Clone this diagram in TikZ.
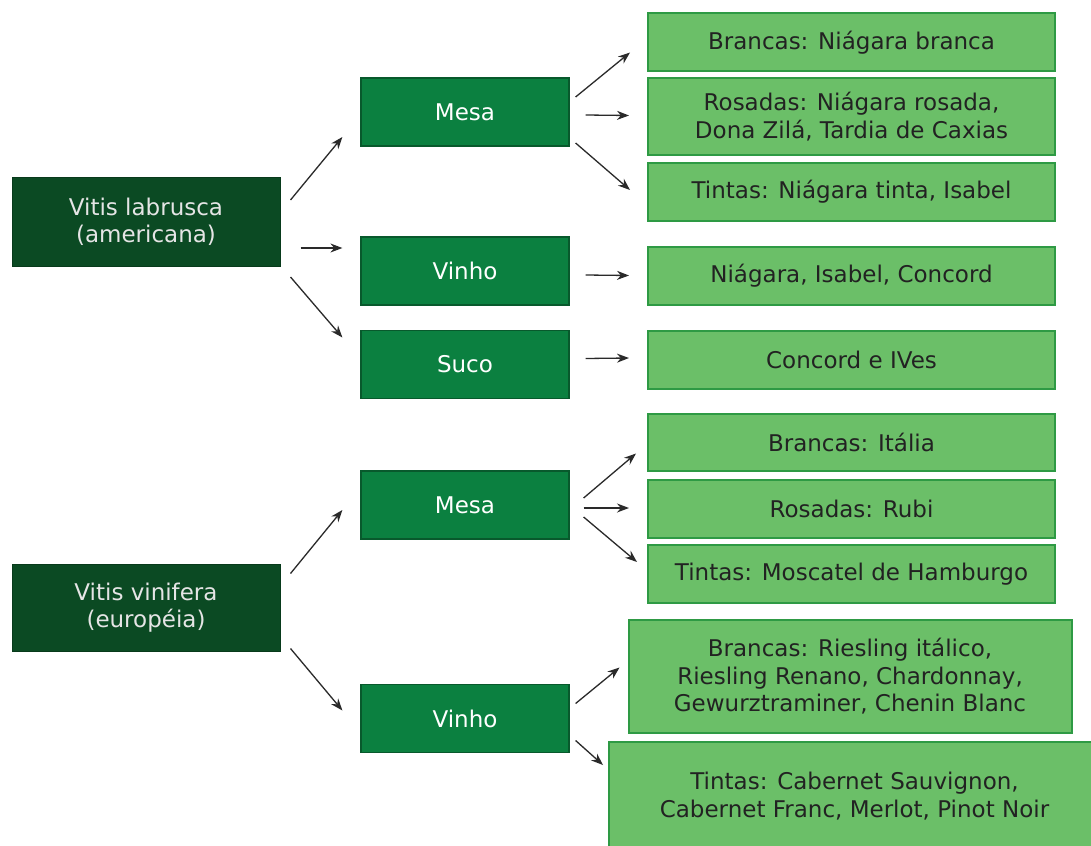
\documentclass[tikz,border=0pt]{standalone}
\usepackage{fontspec}
\setmainfont{DejaVu Sans}
\usetikzlibrary{arrows.meta,calc}
\definecolor{darkg}{HTML}{0B4A23}
\definecolor{darkgb}{HTML}{083A1B}
\definecolor{midg}{HTML}{0B8040}
\definecolor{midgb}{HTML}{08592C}
\definecolor{lightg}{HTML}{6BBF68}
\definecolor{lightgb}{HTML}{2E9A44}
\definecolor{txt}{HTML}{222222}
\definecolor{arrc}{HTML}{2A2A2A}
\tikzset{
  base/.style={rectangle, align=center, inner sep=0pt, font=\fontsize{23}{27.5}\selectfont},
  dark/.style={base, fill=darkg, draw=darkgb, line width=1pt, text=white!90!black, minimum width=268pt, minimum height=88pt},
  mid/.style={base, fill=midg, draw=midgb, line width=1.2pt, text=white, minimum width=208pt, minimum height=68pt},
  light/.style={base, fill=lightg, draw=lightgb, line width=2pt, text=txt, minimum width=407pt},
  arr/.style={-{Stealth[length=12pt,width=9pt]}, line width=1.3pt, draw=arrc},
}
\begin{document}
\begin{tikzpicture}[x=1pt,y=-1pt]
\useasboundingbox (0,0) rectangle (1091,845);
\clip (0,0) rectangle (1091,845);
\fill[white] (0,0) rectangle (1091,845);
% left
\node[dark] (lab) at (146,222) {Vitis labrusca\\(americana)};
\node[dark, minimum height=87pt] (vin) at (146,607.5) {Vitis vinifera\\(europ\'eia)};
% middle
\node[mid] (mesa1) at (465,112) {Mesa};
\node[mid] (vinho1) at (465,271) {Vinho};
\node[mid] (suco) at (465,364.5) {Suco};
\node[mid] (mesa2) at (465,505) {Mesa};
\node[mid] (vinho2) at (465,718.5) {Vinho};
% right
\node[light, minimum height=58pt] (b1) at (851.5,42.5) {Brancas: Niágara branca};
\node[light, minimum height=77pt] (r1) at (851.5,116.5) {Rosadas: Niágara rosada,\\Dona Zilá, Tardia de Caxias};
\node[light, minimum height=58pt] (t1) at (851.5,192) {Tintas: Niágara tinta, Isabel};
\node[light, minimum height=58pt] (n1) at (851.5,275.5) {Niágara, Isabel, Concord};
\node[light, minimum height=58pt] (c1) at (851.5,360) {Concord e IVes};
\node[light, minimum height=57pt] (b2) at (851.5,442.5) {Brancas: Itália};
\node[light, minimum height=58pt] (r2) at (851.5,509) {Rosadas: Rubi};
\node[light, minimum height=58pt] (t2) at (851.5,574) {Tintas: Moscatel de Hamburgo};
\node[light, minimum width=443pt, minimum height=113pt] (b3) at (850,676.5) {Brancas: Riesling itálico,\\Riesling Renano, Chardonnay,\\Gewurztraminer, Chenin Blanc};
\node[light, minimum width=491pt, minimum height=108pt] (t3) at (854.5,796) {Tintas: Cabernet Sauvignon,\\Cabernet Franc, Merlot, Pinot Noir};
% arrows left
\draw[arr] ([shift={(10,-22)}]lab.east) -- ([shift={(-18,25)}]mesa1.west);
\draw[arr] ([shift={(20,26)}]lab.east) -- ([shift={(-18,-23)}]vinho1.west);
\draw[arr] ([shift={(10,55)}]lab.east) -- ([shift={(-18,-27)}]suco.west);
\draw[arr] ([shift={(10,-34)}]vin.east) -- ([shift={(-18,5)}]mesa2.west);
\draw[arr] ([shift={(10,41)}]vin.east) -- ([shift={(-18,-8)}]vinho2.west);
% arrows right
\draw[arr] ([shift={(6,-15)}]mesa1.east) -- ([shift={(-17,10)}]b1.west);
\draw[arr] ([shift={(16,3)}]mesa1.east) -- ([shift={(-18,-1)}]r1.west);
\draw[arr] ([shift={(6,31)}]mesa1.east) -- ([shift={(-17,-2)}]t1.west);
\draw[arr] ([shift={(16,4)}]vinho1.east) -- ([shift={(-18,0)}]n1.west);
\draw[arr] ([shift={(16,-6)}]suco.east) -- ([shift={(-18,-2)}]c1.west);
\draw[arr] ([shift={(14,-7)}]mesa2.east) -- ([shift={(-11,11)}]b2.west);
\draw[arr] ([shift={(14,3)}]mesa2.east) -- ([shift={(-18,-1)}]r2.west);
\draw[arr] ([shift={(14,12)}]mesa2.east) -- ([shift={(-10,-12)}]t2.west);
\draw[arr] ([shift={(6,-15)}]vinho2.east) -- ([shift={(-8,-9)}]b3.west);
\draw[arr] ([shift={(6,22)}]vinho2.east) -- ([shift={(-5,-31)}]t3.west);
\end{tikzpicture}
\end{document}
